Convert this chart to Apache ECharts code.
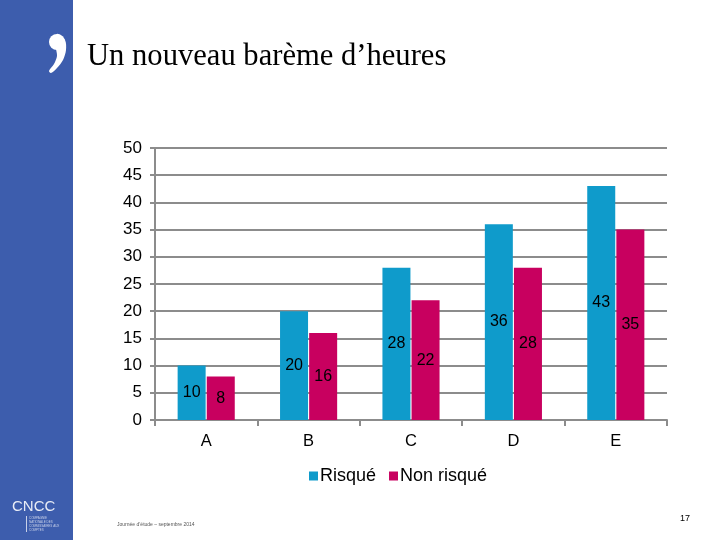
<!DOCTYPE html>
<html><head><meta charset="utf-8">
<script src="https://cdn.jsdelivr.net/npm/echarts@6/dist/echarts.min.js"></script>
<style>html,body{margin:0;padding:0;background:#fff}#c{width:720px;height:540px}</style>
</head><body><div id="c"></div>
<script>
const categories = ['A', 'B', 'C', 'D', 'E'];
const risque = [10, 20, 28, 36, 43];
const nonRisque = [8, 16, 22, 28, 35];
const seriesNames = ['Risqué', 'Non risqué'];
const yTicks = { min: 0, max: 50, interval: 5 };

const chart = echarts.init(document.getElementById('c'));
const lbl = { show: true, position: 'inside', color: '#000', fontSize: 16, fontFamily: 'Arial, Liberation Sans' };
chart.setOption({
  animation: false,
  title: { text: 'Un nouveau barème d’heures', left: 82, top: 36,
    textStyle: { fontFamily: 'Liberation Serif, Times New Roman, serif', fontWeight: 'normal', fontSize: 30.6, color: '#000' } },
  legend: { data: seriesNames, left: 304, top: 462, icon: 'rect', itemWidth: 9, itemHeight: 9, itemGap: 13,
    textStyle: { fontFamily: 'Arial, Liberation Sans', fontSize: 18, color: '#000', padding: [0, 0, 0, -3] } },
  grid: { left: 155, right: 53, top: 148, bottom: 120, containLabel: false },
  xAxis: { type: 'category', data: categories,
    axisLine: { lineStyle: { color: '#8c8c8c', width: 2 } },
    axisTick: { show: true, length: 6, lineStyle: { color: '#8c8c8c', width: 2 } },
    axisLabel: { color: '#000', fontSize: 16.5, fontFamily: 'Arial, Liberation Sans', margin: 13 } },
  yAxis: { type: 'value', min: yTicks.min, max: yTicks.max, interval: yTicks.interval,
    axisLine: { show: true, lineStyle: { color: '#8c8c8c', width: 2 } },
    axisTick: { show: true, length: 5, lineStyle: { color: '#8c8c8c', width: 2 } },
    splitLine: { lineStyle: { color: '#8c8c8c', width: 2 } },
    axisLabel: { color: '#000', fontSize: 17, fontFamily: 'Arial, Liberation Sans', margin: 13 } },
  series: [
    { name: seriesNames[0], type: 'bar', data: risque, barWidth: 28, barGap: '4%', itemStyle: { color: '#0f9bcb' }, label: lbl },
    { name: seriesNames[1], type: 'bar', data: nonRisque, barWidth: 28, itemStyle: { color: '#c8005f' }, label: lbl }
  ],
  graphic: [
    { type: 'rect', shape: { x: 0, y: 0, width: 73, height: 540 }, style: { fill: '#3d5dad' }, z: -1 },
    { type: 'circle', shape: { cx: 57, cy: 42, r: 8 }, style: { fill: '#fff' } },
    { type: 'polygon', shape: { points: [[57, 34], [65, 40], [66, 50], [63, 60], [57, 68], [51, 73], [49, 71], [54, 64], [57, 56], [56, 48]], smooth: 0.3 }, style: { fill: '#fff' } },
    { type: 'text', x: 12, y: 499, style: { text: 'CNCC', fill: '#e8ecf6', font: '15px Liberation Sans, Arial' } },
    { type: 'rect', shape: { x: 26, y: 516, width: 1, height: 16 }, style: { fill: '#c8d0e8' } },
    { type: 'text', x: 29, y: 516, style: { text: 'COMPAGNIE\nNATIONALE DES\nCOMMISSAIRES AUX\nCOMPTES', fill: '#c8d0e8', font: '3px Liberation Sans, Arial', lineHeight: 4 } },
    { type: 'text', x: 117, y: 522, style: { text: 'Journée d’étude – septembre 2014', fill: '#555', font: '5px Liberation Sans, Arial' } },
    { type: 'text', x: 680, y: 514, style: { text: '17', fill: '#000', font: '9px Liberation Sans, Arial' } }
  ]
});
</script></body></html>
